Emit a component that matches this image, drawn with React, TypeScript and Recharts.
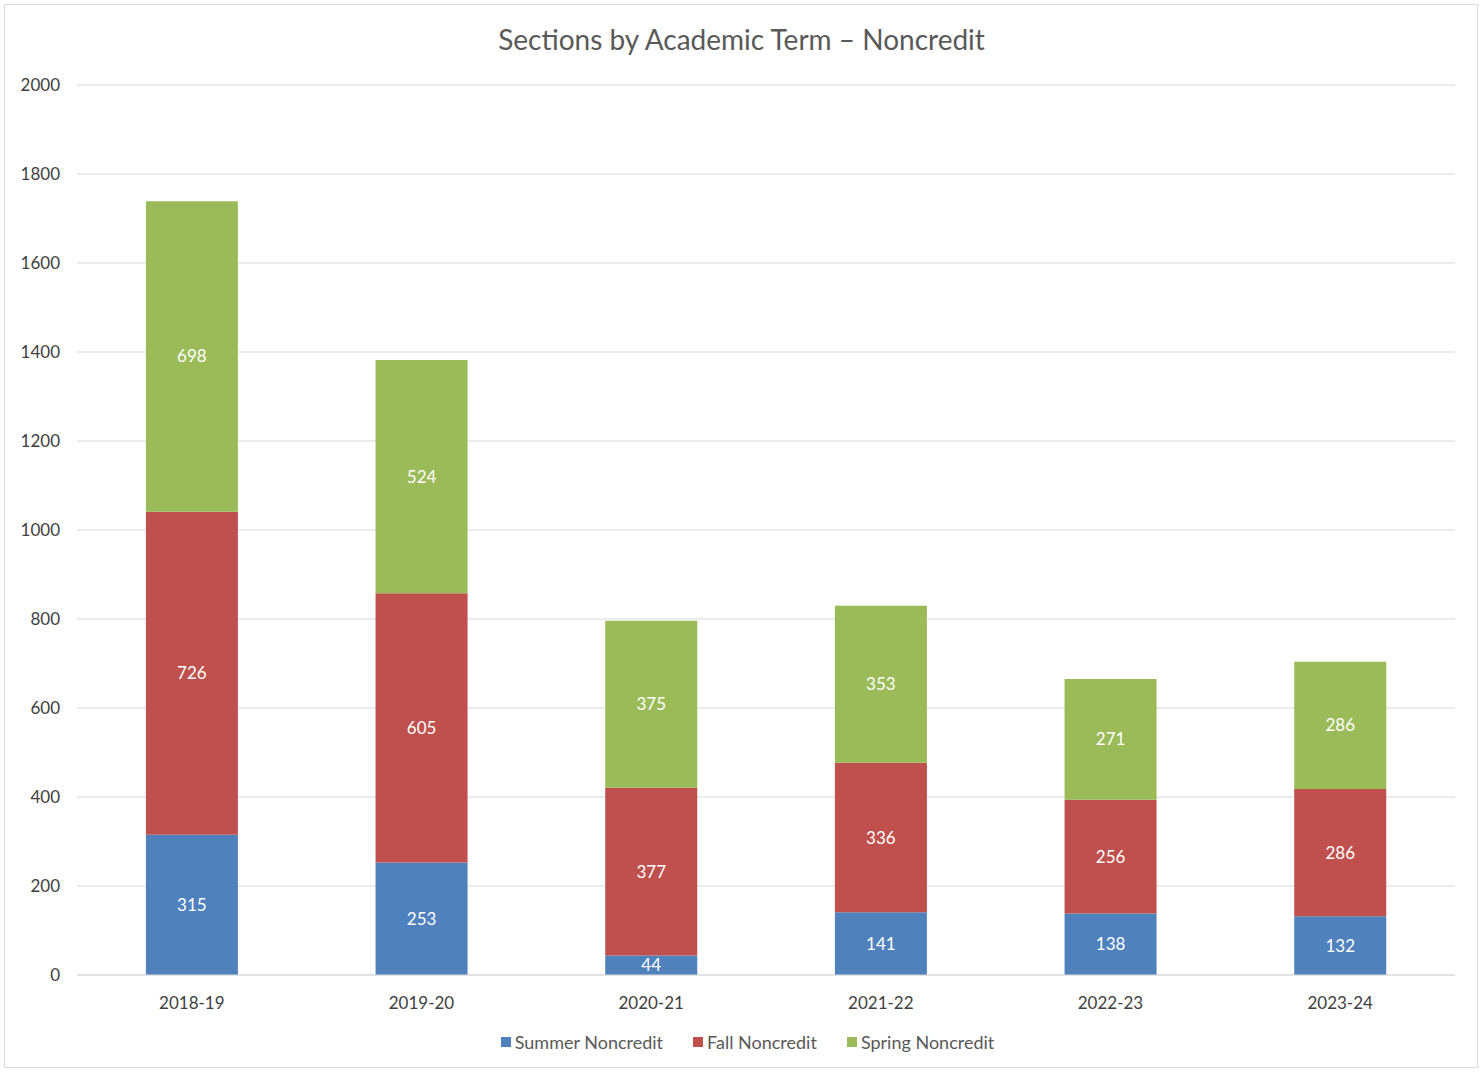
import React from "react";
import { BarChart, Bar, XAxis, YAxis, CartesianGrid, Legend, LabelList } from "recharts";

const categories = ["2018-19", "2019-20", "2020-21", "2021-22", "2022-23", "2023-24"];
const summer = [315, 253, 44, 141, 138, 132];
const fall = [726, 605, 377, 336, 256, 286];
const spring = [698, 524, 375, 353, 271, 286];
const yTicks = [0, 200, 400, 600, 800, 1000, 1200, 1400, 1600, 1800, 2000];

const seriesNames = ["Summer Noncredit", "Fall Noncredit", "Spring Noncredit"];
const seriesColors = ["#4f81bd", "#c0504d", "#9bbb59"];

const data = categories.map((c, i) => ({
  term: c,
  summer: summer[i],
  fall: fall[i],
  spring: spring[i],
}));

const FONT = "Lato, 'Open Sans', sans-serif";

const LegendContent = () => (
  <div style={{ display: "flex", justifyContent: "center", gap: 30, fontSize: 18, color: "#595959", fontFamily: FONT }}>
    {seriesNames.map((n, i) => (
      <div key={n} style={{ display: "flex", alignItems: "center" }}>
        <span style={{ display: "inline-block", width: 10, height: 10, background: seriesColors[i], marginRight: 4 }} />
        <span>{n}</span>
      </div>
    ))}
  </div>
);

export default function App() {
  return (
    <div style={{ position: "absolute", left: 0, top: 0, width: 1483, height: 1072, background: "#fff", fontFamily: FONT }}>
      <div style={{ position: "absolute", left: 4, top: 4, width: 1472, height: 1062, border: "1px solid #d9d9d9" }} />
      <div style={{ position: "absolute", left: 0, top: 22, width: 1483, textAlign: "center", fontSize: 28, color: "#595959", fontFamily: FONT }}>
        Sections by Academic Term – Noncredit
      </div>
      <BarChart width={1483} height={1072} data={data} margin={{ top: 85, right: 28, left: 0, bottom: 67 }} barCategoryGap="30%">
        <CartesianGrid vertical={false} stroke="#d9d9d9" />
        <XAxis dataKey="term" axisLine={{ stroke: "#d9d9d9" }} tickLine={false} height={30} tickMargin={16} tick={{ fill: "#404040", fontSize: 17, fontFamily: FONT }} />
        <YAxis domain={[0, 2000]} ticks={yTicks} width={77} axisLine={false} tickLine={false} tickSize={0} tickMargin={17} interval={0} tick={{ fill: "#404040", fontSize: 17, fontFamily: FONT }} />
        <Legend verticalAlign="middle" align="center" content={<LegendContent />}
          wrapperStyle={{ top: 1031, left: 6, width: 1483 }} />
        <Bar dataKey="summer" name={seriesNames[0]} stackId="a" fill={seriesColors[0]} isAnimationActive={false}>
          <LabelList dataKey="summer" position="center" fill="#ffffff" fontSize={17} fontFamily={FONT} />
        </Bar>
        <Bar dataKey="fall" name={seriesNames[1]} stackId="a" fill={seriesColors[1]} isAnimationActive={false}>
          <LabelList dataKey="fall" position="center" fill="#ffffff" fontSize={17} fontFamily={FONT} />
        </Bar>
        <Bar dataKey="spring" name={seriesNames[2]} stackId="a" fill={seriesColors[2]} isAnimationActive={false}>
          <LabelList dataKey="spring" position="center" fill="#ffffff" fontSize={17} fontFamily={FONT} />
        </Bar>
      </BarChart>
    </div>
  );
}
